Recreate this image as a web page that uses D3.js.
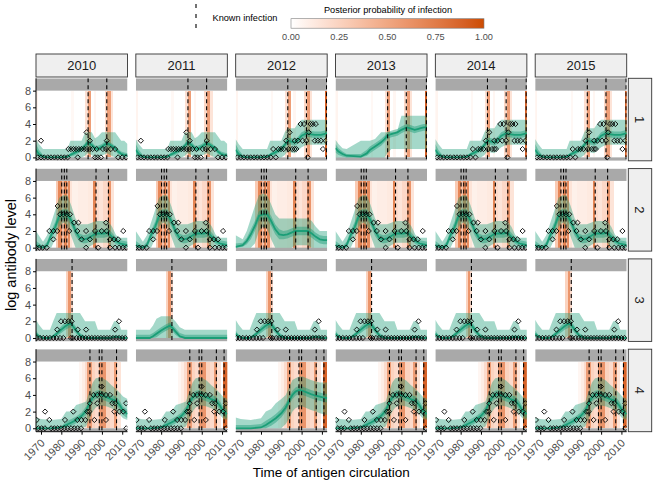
<!DOCTYPE html>
<html><head><meta charset="utf-8">
<script src="https://cdn.jsdelivr.net/npm/d3@7"></script>
<style>body{margin:0;background:#fff}svg{display:block}text{font-family:"Liberation Sans",Arial,Helvetica,sans-serif}</style>
</head><body><svg id="c" width="672" height="480"></svg>
<script>
// ---------------- DATA ----------------
const sampleYears = [2010, 2011, 2012, 2013, 2014, 2015];
const individuals = ["1", "2", "3", "4"];
const yTicks = [0, 2, 4, 6, 8];
const xTicks = [1970, 1980, 1990, 2000, 2010];
const legendTicks = [0, 0.25, 0.5, 0.75, 1];
const legendTickLabels = ["0.00", "0.25", "0.50", "0.75", "1.00"];

// known infections per individual
const r1Inf = [1993.2, 2002.4, 2012.3];
const r2Inf = [1980.2, 1981.5, 1982.7, 1997.1, 2003.2];
const r3Inf = [1985.3];
const r4Inf = [1994.1, 1998.7, 2000.0, 2007.2, 2011.0];

// posterior probability bands [from, to, probability]
const r1Bands = [[1967.5,1968.5,0.06],[1985,1986,0.04],[1991.8,1993.1,0.18],[1993.1,1994.4,0.55],[1996,1997,0.05],[2001.3,2002.6,0.22],[2002.6,2004.3,0.55],[2004.3,2005.2,0.15],[2011.7,2012.6,0.9]];
const r2Bands = [[1977.3,1978.6,0.3],[1978.6,1980.4,0.68],[1980.4,1981.3,0.35],[1981.3,1982.6,0.7],[1982.6,1983.2,0.35],[1983.2,1984.3,0.65],[1984.3,1985.5,0.15],[1985.5,1988,0.08],[1988,1990.5,0.1],[1990.5,1993,0.1],[1993,1995.8,0.12],[1995.8,1997,0.7],[1997,1998.5,0.2],[1998.5,2000.3,0.15],[2000.3,2002.8,0.22],[2002.8,2004.5,0.6],[2004.5,2006,0.15]];
const r3Bands = [[1982.4,1983.5,0.25],[1983.5,1984.8,0.6],[1984.8,1985.6,0.2]];
const r4Bands = [[1988.5,1990,0.05],[1990,1991.5,0.1],[1991.5,1992.8,0.2],[1992.8,1995,0.55],[1995,1996.5,0.25],[1996.5,1998.6,0.2],[1998.6,2002,0.6],[2002,2004,0.25],[2004,2005.9,0.2],[2005.9,2007.6,0.55],[2007.6,2009.2,0.15],[2010.6,2012.6,0.88]];

// model ribbons: [lo95, lo50, median, hi50, hi95] at knot years
const r1Knots = [1967.5,1969,1971,1973,1980,1983,1984.5,1987,1990,1991.7,1993,1995,1996.6,1998,2000,2002.5,2004,2006.5,2008,2009.5,2011,2012.6];
const r1A = [
  [0,0,0,0,0,0,0,0,0,0.2,0.5,0.3,0,0,0.2,0.5,0.3,0,0,0,0,0],
  [0.3,0.1,0,0,0,0,0.1,0.3,0.7,1.0,1.4,1.1,0.8,0.7,0.9,1.3,1.1,0.8,0.4,0.2,0.1,0.05],
  [0.9,0.4,0.05,0,0,0.05,0.3,0.6,1.0,1.4,1.8,1.5,1.1,1.0,1.3,1.7,1.5,1.1,0.7,0.4,0.3,0.25],
  [1.6,0.9,0.3,0.1,0.1,0.2,0.5,0.9,1.3,1.7,2.2,1.9,1.4,1.4,1.6,2.1,1.8,1.4,1.0,0.7,0.6,0.5],
  [2.2,1.6,1,1,1,1,2,2,2,3,3,3,2.3,2.5,3,3,3,3,2.5,2,2,1.6]];
const r1B = [
  [0,0,0,0,0,0,0,0,0,0.3,0.7,0.6,0.5,0.8,1.2,1.5,1.5,1.5,1.5,1.5,1.5,1.5],
  [0.3,0.1,0,0,0,0,0.1,0.3,0.7,1.1,1.6,1.5,1.4,1.6,2.2,2.5,2.4,2.3,2.3,2.3,2.4,2.5],
  [0.9,0.4,0.05,0,0,0.05,0.3,0.6,1.0,1.5,2.0,1.9,1.8,2.0,2.6,2.9,2.8,2.7,2.7,2.7,2.8,2.9],
  [1.6,0.9,0.3,0.1,0.1,0.2,0.5,0.9,1.3,1.8,2.4,2.3,2.2,2.4,3.0,3.3,3.2,3.1,3.1,3.1,3.2,3.3],
  [2.2,1.6,1,1,1,1,2,2,2,3,3.5,3.5,3.5,4,4.5,4.5,4.5,4.5,4.5,4.5,4.5,4.5]];
const r1C = [
  [0,0,0,0,0,0,0,0,0,0,0.5,1,1,1,1,1,1,1,1,1,1,1],
  [0.6,0.3,0.1,0,0,0.2,0.5,0.9,1.4,1.8,2.2,2.4,2.5,2.6,2.9,3.2,3.1,2.9,3.0,3.1,3.2,3.2],
  [1.1,0.7,0.4,0.2,0.1,0.5,0.9,1.3,1.8,2.2,2.6,2.8,2.9,3.0,3.3,3.6,3.5,3.3,3.4,3.5,3.6,3.6],
  [1.6,1.1,0.7,0.4,0.4,0.9,1.3,1.7,2.2,2.6,3.0,3.2,3.3,3.4,3.7,4.0,3.9,3.7,3.8,3.9,4.0,4.0],
  [2.1,1.6,1.1,1,2,2,2,2.2,3,3,3,3,3,3.2,5,5,5,5,5,5,5,5]];

const r2Knots = [1967.5,1971,1973,1975,1977,1979,1981,1983,1985,1987,1989,1991,1993,1995,1997,1999,2001,2003,2005,2007,2009,2011,2012.6];
const r2A = [
  [0,0,0,0,1,2.5,3,2.7,1.3,0,0,0,0,0.3,0.6,0.6,0.6,0.6,0,0,0,0,0],
  [0,0,0,1.0,1.9,3.2,3.4,3.4,2.6,1.4,0.7,0.5,0.6,0.9,1.2,1.2,1.2,1.3,0.8,0.4,0.1,0,0],
  [0.3,0,0.3,1.5,2.5,3.8,4.0,4.0,3.2,2.0,1.2,1.0,1.1,1.4,1.7,1.7,1.7,1.8,1.3,0.8,0.5,0.4,0.3],
  [0.8,0.2,0.7,2.0,3.1,4.4,4.6,4.6,3.8,2.6,1.7,1.5,1.6,1.9,2.2,2.2,2.2,2.3,1.8,1.2,0.9,0.8,0.7],
  [2,0.7,1.5,3,4.5,6,6.3,6.3,5,3.5,2.8,2.8,2.8,3,3.2,3.2,3.2,3.2,2.5,1.5,1.2,1.2,1.2]];
const r2C = [
  [0,0,0,0,0.5,2,2.5,2.3,1,0,0,0,0,0,0.3,0.3,0.3,0.3,0,0,0,0,0],
  [0,0.1,0.4,1.0,2.0,3.2,3.4,3.4,2.6,1.6,1.0,1.0,1.1,1.3,1.5,1.5,1.5,1.5,1.2,0.8,0.5,0.4,0.4],
  [0.1,0.3,0.8,1.6,2.6,3.8,4.0,4.0,3.2,2.2,1.6,1.5,1.6,1.8,2.0,2.0,2.0,2.0,1.7,1.3,1.0,0.9,0.9],
  [0.5,0.6,1.2,2.2,3.2,4.4,4.6,4.6,3.8,2.8,2.2,2.0,2.1,2.3,2.5,2.5,2.5,2.5,2.2,1.8,1.5,1.4,1.4],
  [1.5,1,2,3.5,5,6.3,6.5,6.3,5.2,4,3.5,3.5,3.5,3.5,3.5,3.5,3.5,3.5,3.2,2.5,2,2,2]];

const r3Knots = [1967.5,1969,1971,1974.4,1976,1977.7,1980,1982,1984.5,1987,1989.2,1991.7,1994,1996.6,1998,2001,2004,2006,2008,2009.5,2011,2012.6];
const r3A = [
  [0,0,0,0,0,0,0,0,0.3,0,0,0,0,0,0,0,0,0,0,0,0,0],
  [0.1,0,0,0,0,0.2,0.6,1.0,1.3,0.6,0,0,0,0,0,0,0,0,0,0,0,0],
  [0.5,0.2,0,0,0.2,0.5,1.0,1.4,1.8,1.0,0.3,0,0,0,0,0,0,0.1,0.1,0,0,0],
  [0.9,0.4,0.1,0.1,0.4,0.8,1.4,1.9,2.3,1.4,0.6,0.2,0.1,0.1,0.1,0.1,0.1,0.3,0.3,0.2,0.1,0.1],
  [2.2,1.6,1,1,2,3,3,3,3,3,3,2,2,2,1,1,1,2,2,1,1,1]];
const r3C = [
  [0,0,0,0,0,0,0,0,0,0,0,0,0,0,0,0,0,0,0,0,0,0],
  [0,0,0,0,0,0.1,0.5,0.8,1.1,0.4,0,0,0,0,0,0,0,0,0,0,0,0],
  [0,0,0,0,0.2,0.5,0.9,1.2,1.5,0.8,0.2,0,0,0,0,0,0,0,0,0,0,0],
  [0.4,0.4,0.4,0.4,0.6,0.9,1.3,1.6,1.9,1.2,0.6,0.4,0.4,0.4,0.4,0.4,0.4,0.4,0.4,0.4,0.4,0.4],
  [1,1,1,1,1.5,2.3,2.6,2.6,2.6,2,1.3,1,1,1,1,1,1,1,1,1,1,1]];

const r4Knots = [1967.5,1970,1975,1980,1982.4,1985,1987.3,1990,1992.2,1994,1995.5,1997,1998.8,2000.5,2002.5,2004.6,2007,2009,2010.4,2012.6];
const r4A = [
  [0,0,0,0,0,0,0,0,0.2,1.2,2,2.5,2.7,2.7,2.6,2.4,2.1,1.6,1.2,1.0],
  [0,0,0,0,0.1,0.3,0.6,1.1,1.6,2.6,3.2,3.5,3.6,3.4,3.2,3.0,2.8,2.2,1.6,1.2],
  [0,0,0,0.1,0.4,0.7,1.0,1.5,2.1,3.1,3.7,4.0,4.1,3.9,3.7,3.5,3.3,2.7,2.1,1.7],
  [0.2,0.1,0.1,0.2,0.8,1.1,1.4,1.9,2.6,3.6,4.2,4.5,4.6,4.4,4.2,4.0,3.8,3.2,2.6,2.2],
  [1.3,1.1,1,1.1,2,2,2.8,3,3.2,4.5,5.5,6,6.1,6,5.7,5.2,4.7,4.2,3.8,3.5]];
const r4C = [
  [0,0,0,0,0,0,0,0,0.5,1.2,2,2.4,2.6,2.6,2.4,2.2,2,1.8,1.7,1.6],
  [0,0,0,0,0,0.3,0.7,1.3,2.0,2.9,3.5,3.9,4.1,4.0,3.8,3.6,3.4,3.3,3.2,3.1],
  [0,0,0,0.1,0.4,0.8,1.2,1.8,2.5,3.4,4.0,4.4,4.6,4.5,4.3,4.1,3.9,3.8,3.7,3.6],
  [0.4,0.4,0.4,0.5,0.9,1.3,1.7,2.3,3.0,3.9,4.5,4.9,5.1,5.0,4.8,4.6,4.4,4.3,4.2,4.1],
  [1.3,1.1,1,1.2,2,2.3,3,3.5,4,5,5.8,6,6.2,6.2,6,5.8,5.6,5.5,5.5,5.5]];

// observed titres [strain year, log titre]
const r1PtsA = [[1968.4,0],[1970,2],[1970,0],[1971.6,0],[1973.3,0],[1974.9,0],[1976.6,0],[1978.2,0],[1979.9,0],[1981.5,0],[1983.1,0],[1983.5,1],[1984.8,1],[1986,1],[1987.3,1],[1988.1,0],[1988.6,1],[1989.9,1],[1991.2,1],[1992.4,3],[1992.6,1],[1994.1,2],[1994.1,1],[1995.4,1],[1996.6,0],[1997.4,1],[1997.9,0],[1999.5,0],[2000.5,1],[2002.4,2],[2002,1],[2004.4,1],[2006.5,1],[2008,0],[2010,0],[2011.9,0]];
const r1PtsB = [[1968.4,0],[1970,0],[1971.6,0],[1973.3,0],[1974.9,0],[1976.6,0],[1978.2,0],[1979.9,0],[1981.5,0],[1983.1,0],[1984.8,0],[1986,1],[1987.3,0],[1988.6,1],[1989.9,1],[1991.2,1],[1992.4,2],[1993.5,1],[1994.1,3],[1995.4,1],[1996.6,2],[1996.5,1],[1997.4,1],[1998.2,2],[1999.5,4],[2000.5,2],[2001.2,4],[2002.4,2],[2003,0],[2003.5,3],[2004.4,4],[2005.5,4],[2006.5,2],[2007,4],[2008,2],[2009.5,2],[2010.5,1],[2011.9,2]];
const r2Pts = [[1967.5,0],[1969.2,0],[1970.8,0],[1972.8,0],[1974.1,2],[1976.1,2],[1976.1,1],[1978,2],[1978.2,5],[1979.4,4],[1981,4],[1982.7,4],[1984.3,4],[1983.9,2],[1986.3,3],[1988.4,3],[1987.9,2],[1990,1],[1992.2,2],[1992.2,0],[1994.1,1],[1996.6,2],[1998.2,0],[1999.9,2],[2002,3],[2002.4,2],[2004,1],[2006,1],[2008,1],[2010.5,2],[2004,0],[2006.5,0],[2008.5,0],[2010.3,0],[2012,0]];
const r3Pts = [[1967.9,0],[1969.5,0],[1971.1,0],[1972.8,0],[1974.4,0],[1976.1,0],[1977.7,0],[1978,1],[1979.4,0],[1979.9,2],[1981,0],[1981.8,2],[1983.5,2],[1984.8,0],[1985.1,2],[1985.7,0],[1987.5,0],[1988.1,1],[1989,0],[1990.5,0],[1992.2,1],[1992,0],[1993.5,0],[1995,0],[1996.5,0],[1998,0],[1999.5,0],[2001,0],[2002.5,0],[2004,0],[2005.5,0],[2006.5,1],[2007,0],[2008.4,2],[2008.5,0],[2010,0],[2011.5,0]];
const r4Pts = [[1967.9,1],[1968.7,0],[1970.3,0],[1971.9,0],[1972,2],[1974.1,1],[1975,0],[1976.6,0],[1978.2,0],[1979.9,0],[1981.5,0],[1981.8,1],[1983.1,0],[1984.8,0],[1985.9,2],[1986.4,0],[1987.9,1],[1988,0],[1989.7,0],[1989.9,1],[1991.8,1],[1992.8,2],[1993.8,2],[1994.1,3],[1995.8,4],[1996.3,1],[1997.7,4],[1997.7,3],[1999.9,4],[1999.9,5],[2002,4],[2002,1],[2004,4],[2005.1,3],[2006.5,3],[2006.1,2],[2008.6,2],[2010.5,2],[2011.9,3],[2012,0]];

// which model / observations belong to each panel (row = individual, column = sample year)
const knotsByRow = [r1Knots, r2Knots, r3Knots, r4Knots];
const ribbonByPanel = [[r1A,r1A,r1B,r1C,r1B,r1B],[r2A,r2A,r2C,r2A,r2A,r2A],[r3A,r3C,r3A,r3A,r3A,r3A],[r4A,r4A,r4C,r4A,r4A,r4A]];
const pointsByPanel = [[r1PtsA,r1PtsA,r1PtsB,null,r1PtsB,r1PtsB],[r2Pts,r2Pts,null,r2Pts,r2Pts,r2Pts],[r3Pts,null,r3Pts,r3Pts,r3Pts,r3Pts],[r4Pts,r4Pts,null,r4Pts,r4Pts,r4Pts]];
const bandsByRow = [r1Bands, r2Bands, r3Bands, r4Bands];
const infByRow = [r1Inf, r2Inf, r3Inf, r4Inf];

// ---------------- LAYOUT ----------------
const X0 = 36, PW = 91.5, CS = 99.84, Y0 = 78.3, PH = 82.5, RS = 90.3;
const GREEN = "#1b9e77";
const svg = d3.select("#c");
const x = d3.scaleLinear().domain([1967.54, 2012.6]).range([0, PW]);
const y = d3.scaleLinear().domain([-0.41, 9.48]).range([PH, 0]);
const probColor = d3.scaleLinear().domain([0, 1]).range(["#ffffff", "#cc4c02"]).interpolate(d3.interpolateLab);

const defs = svg.append("defs");
defs.append("clipPath").attr("id", "pclip").append("rect").attr("x", 0).attr("y", 0).attr("width", PW).attr("height", PH);

const diamond = r => `M0,${-r}L${r},0L0,${r}L${-r},0Z`;

individuals.forEach((ind, r) => {
  sampleYears.forEach((sy, c) => {
    const g = svg.append("g").attr("transform", `translate(${X0 + c * CS},${Y0 + r * RS})`);
    const p = g.append("g").attr("clip-path", "url(#pclip)");
    p.append("rect").attr("width", PW).attr("height", PH).attr("fill", "#fff");
    // posterior probability bands (only infections up to the sample year)
    p.selectAll("rect.band").data(bandsByRow[r].filter(b => b[0] < sy + 0.5)).join("rect")
      .attr("class", "band").attr("shape-rendering", "crispEdges")
      .attr("x", b => x(b[0])).attr("width", b => x(b[1]) - x(b[0]) + 0.3)
      .attr("y", y(8)).attr("height", y(0) - y(8))
      .attr("fill", b => probColor(b[2]));
    // grey areas outside the titre range
    p.append("rect").attr("x", 0).attr("width", PW).attr("y", 0).attr("height", y(8)).attr("fill", "#a9a9a9");
    p.append("rect").attr("x", 0).attr("width", PW).attr("y", y(0)).attr("height", PH - y(0)).attr("fill", "#a9a9a9");
    // ribbons
    const R = ribbonByPanel[r][c];
    const K = knotsByRow[r];
    const rows = K.map((k, i) => ({ t: k, lo95: R[0][i], lo50: R[1][i], med: R[2][i], hi50: R[3][i], hi95: R[4][i] }));
    p.append("path").datum(rows).attr("fill", GREEN).attr("fill-opacity", 0.4)
      .attr("d", d3.area().x(d => x(d.t)).y0(d => y(d.lo95)).y1(d => y(d.hi95)));
    p.append("path").datum(rows).attr("fill", GREEN).attr("fill-opacity", 0.45)
      .attr("d", d3.area().x(d => x(d.t)).y0(d => y(d.lo50)).y1(d => y(d.hi50)));
    p.append("path").datum(rows).attr("fill", "none").attr("stroke", GREEN).attr("stroke-width", 1.8)
      .attr("d", d3.line().x(d => x(d.t)).y(d => y(d.med)));
    // observations
    const pts = pointsByPanel[r][c];
    if (pts) {
      p.selectAll("path.pt").data(pts).join("path").attr("class", "pt")
        .attr("transform", d => `translate(${x(d[0])},${y(d[1])})`)
        .attr("d", diamond(2.6)).attr("fill", "none").attr("stroke", "#000").attr("stroke-width", 0.9);
    }
    // known infections
    p.selectAll("line.inf").data(infByRow[r].filter(v => v < sy + 0.5)).join("line").attr("class", "inf")
      .attr("x1", d => x(d)).attr("x2", d => x(d)).attr("y1", 0).attr("y2", PH)
      .attr("stroke", "#000").attr("stroke-width", 1.1).attr("stroke-dasharray", "4,3");

    // axes
    if (c === 0) {
      const ay = g.append("g").call(d3.axisLeft(y).tickValues(yTicks).tickSize(3).tickSizeOuter(0).tickPadding(2));
      ay.select(".domain").attr("d", `M0,0V${PH}`).attr("stroke", "#000");
      ay.selectAll("text").attr("font-size", 11).attr("fill", "#4d4d4d").attr("font-family", "Liberation Sans, Arial, sans-serif");
    }
    if (r === individuals.length - 1) {
      const ax = g.append("g").attr("transform", `translate(0,${PH})`)
        .call(d3.axisBottom(x).tickValues(xTicks).tickFormat(d3.format("d")).tickSize(3).tickSizeOuter(0));
      ax.select(".domain").attr("d", `M0,0H${PW}`).attr("stroke", "#000");
      ax.selectAll("text").attr("font-size", 11).attr("fill", "#4d4d4d").attr("font-family", "Liberation Sans, Arial, sans-serif")
        .attr("x", 0).attr("y", 0).attr("dy", 0).attr("text-anchor", "end")
        .attr("transform", "translate(4,12) rotate(-45)");
    }
  });
});

// column strips
sampleYears.forEach((sy, c) => {
  const sx = X0 + c * CS;
  svg.append("rect").attr("x", sx).attr("y", 54).attr("width", PW).attr("height", 23)
    .attr("fill", "#efefef").attr("stroke", "#333").attr("stroke-width", 0.9);
  svg.append("text").attr("x", sx + PW / 2).attr("y", 70).attr("text-anchor", "middle")
    .attr("font-size", 13).attr("fill", "#1a1a1a").text(sy);
});
// row strips
individuals.forEach((ind, r) => {
  const sy0 = Y0 + r * RS;
  svg.append("rect").attr("x", 628.3).attr("y", sy0).attr("width", 23.4).attr("height", PH)
    .attr("fill", "#efefef").attr("stroke", "#333").attr("stroke-width", 0.9);
  svg.append("text").attr("transform", `translate(${640},${sy0 + PH / 2}) rotate(90)`)
    .attr("text-anchor", "middle").attr("dy", "0.35em").attr("font-size", 13).attr("fill", "#1a1a1a").text(ind);
});

// axis titles
svg.append("text").attr("x", X0 + (5 * CS + PW) / 2).attr("y", 477).attr("text-anchor", "middle")
  .attr("font-size", 13.5).attr("fill", "#000").text("Time of antigen circulation");
svg.append("text").attr("transform", `translate(16,${Y0 + (3 * RS + PH) / 2}) rotate(-90)`).attr("text-anchor", "middle")
  .attr("font-size", 14.5).attr("fill", "#000").text("log antibody level");

// legend: known infection
svg.append("line").attr("x1", 196).attr("x2", 196).attr("y1", 4).attr("y2", 28)
  .attr("stroke", "#000").attr("stroke-width", 1.1).attr("stroke-dasharray", "4,6");
svg.append("text").attr("x", 212.5).attr("y", 21).attr("font-size", 9.2).attr("fill", "#000").text("Known infection");

// legend: colour bar
const lx = d3.scaleLinear().domain([0, 1]).range([291, 484]);
const grad = defs.append("linearGradient").attr("id", "pgrad").attr("x1", "0%").attr("x2", "100%");
d3.range(0, 1.0001, 0.1).forEach(t => grad.append("stop").attr("offset", `${t * 100}%`).attr("stop-color", probColor(t)));
svg.append("rect").attr("x", lx(0)).attr("y", 18.7).attr("width", lx(1) - lx(0)).attr("height", 9.5)
  .attr("fill", "url(#pgrad)").attr("stroke", "#7f7f7f").attr("stroke-width", 0.6);
svg.append("text").attr("x", 388).attr("y", 13).attr("text-anchor", "middle").attr("font-size", 9.2).attr("fill", "#000")
  .text("Posterior probability of infection");
svg.selectAll("text.lt").data(legendTicks).join("text").attr("class", "lt")
  .attr("x", d => lx(d)).attr("y", 40).attr("text-anchor", "middle").attr("font-size", 9.2).attr("fill", "#4d4d4d")
  .text((d, i) => legendTickLabels[i]);
</script></body></html>
